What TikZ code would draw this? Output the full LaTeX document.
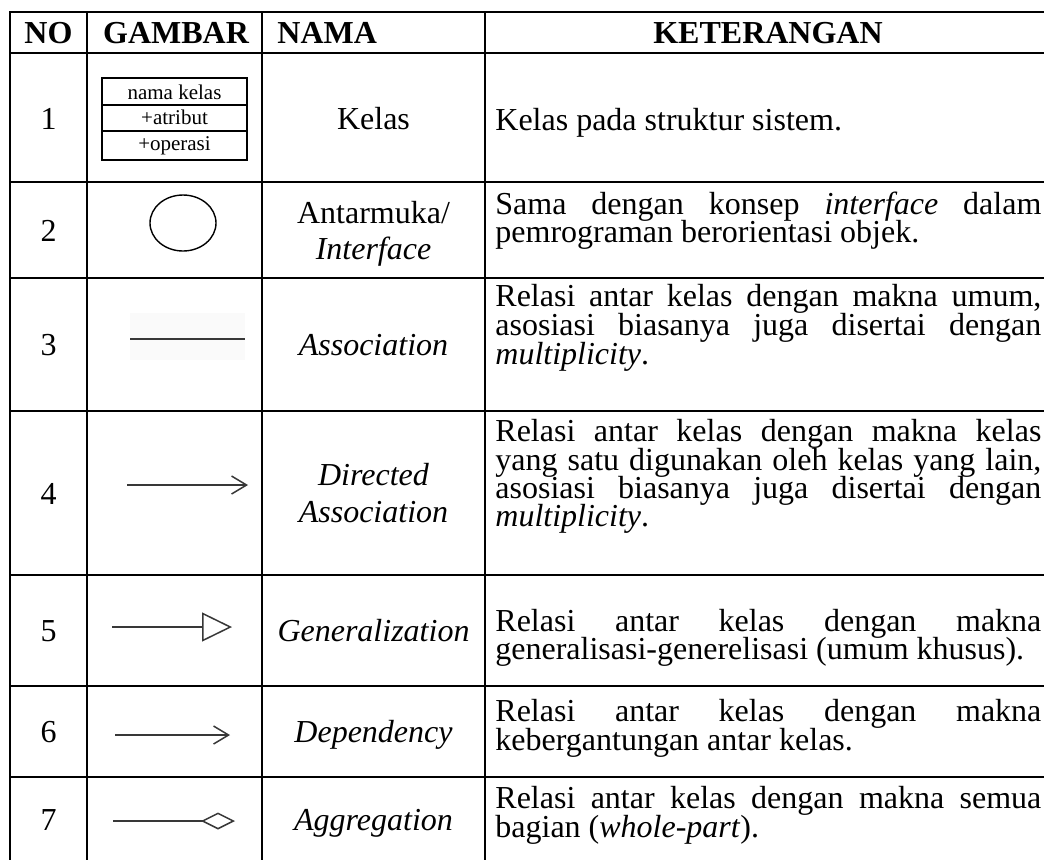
\documentclass[tikz,border=0pt]{standalone}
\usepackage{fontspec}
\setmainfont{Liberation Serif}
\usetikzlibrary{arrows.meta,shapes.geometric}
\newcommand\jline[1]{\makebox[273pt][s]{#1}}
\begin{document}
\begin{tikzpicture}[x=0.5pt,y=-0.5pt,
  grid/.style={line width=1.1pt, draw=black, line cap=rect},
  txt/.style={inner sep=0pt, anchor=base, font=\fontsize{16pt}{18pt}\selectfont},
  hdr/.style={inner sep=0pt, anchor=base, font=\fontsize{16pt}{18pt}\selectfont\bfseries},
  ket/.style={inner sep=0pt, anchor=base west, font=\fontsize{16pt}{18pt}\selectfont},
  small/.style={inner sep=0pt, anchor=base, font=\fontsize{10.5pt}{12pt}\selectfont},
  boxline/.style={line width=0.7pt, draw=black},
  sym/.style={line width=0.75pt, draw=black!78},
]
\useasboundingbox[fill=white] (0,0) rectangle (1044,859);

% table grid
\foreach \y in {12,53,182,278,411,575,686,777}
  \draw[grid] (10,\y) -- (1044,\y);
\foreach \x in {10,87,262,485}
  \draw[grid] (\x,12) -- (\x,866);

% header
\node[hdr] (hno) at (48.5,43) {NO};
\node[hdr] (hgb) at (176,43) {GAMBAR};
\node[hdr, anchor=base west] (hnm) at (277,43) {NAMA};
\node[hdr] (hket) at (768,43) {KETERANGAN};

% numbers
\node[txt] (n1) at (48.5,129) {1};
\node[txt] (n2) at (48.5,241) {2};
\node[txt] (n3) at (48.5,355) {3};
\node[txt] (n4) at (48.5,504) {4};
\node[txt] (n5) at (48.5,641) {5};
\node[txt] (n6) at (48.5,742) {6};
\node[txt] (n7) at (48.5,830) {7};

% names
\node[txt] (nm1) at (373.5,129) {Kelas};
\node[txt] (nm2a) at (373.5,223) {Antarmuka/};
\node[txt] (nm2b) at (373.5,259) {\itshape Interface};
\node[txt] (nm3) at (373.5,355) {\itshape Association};
\node[txt] (nm4a) at (373.5,485) {\itshape Directed};
\node[txt] (nm4b) at (373.5,522) {\itshape Association};
\node[txt] (nm5) at (373.5,641) {\itshape Generalization};
\node[txt] (nm6) at (373.5,742) {\itshape Dependency};
\node[txt] (nm7) at (373.5,830) {\itshape Aggregation};

% keterangan
\node[ket] (k1) at (495,130) {Kelas pada struktur sistem.};
\node[ket] (k2a) at (495,214) {\jline{Sama dengan konsep \textit{interface} dalam}};
\node[ket] (k2b) at (495,242.5) {pemrograman berorientasi objek.};
\node[ket] (k3a) at (495,306) {\jline{Relasi antar kelas dengan makna umum,}};
\node[ket] (k3b) at (495,335) {\jline{asosiasi biasanya juga disertai dengan}};
\node[ket] (k3c) at (495,364) {\textit{multiplicity}.};
\node[ket] (k4a) at (495,441) {\jline{Relasi antar kelas dengan makna kelas}};
\node[ket] (k4b) at (495,470) {\jline{yang satu digunakan oleh kelas yang lain,}};
\node[ket] (k4c) at (495,498) {\jline{asosiasi biasanya juga disertai dengan}};
\node[ket] (k4d) at (495,526) {\textit{multiplicity}.};
\node[ket] (k5a) at (495,631) {\jline{Relasi antar kelas dengan makna}};
\node[ket] (k5b) at (495,659) {generalisasi-generelisasi (umum khusus).};
\node[ket] (k6a) at (495,721) {\jline{Relasi antar kelas dengan makna}};
\node[ket] (k6b) at (495,750) {kebergantungan antar kelas.};
\node[ket] (k7a) at (495,808) {\jline{Relasi antar kelas dengan makna semua}};
\node[ket] (k7b) at (495,837) {bagian (\textit{whole-part}).};

% 1: class box
\draw[boxline] (102,78) rectangle (247,160);
\draw[boxline] (102,105) -- (247,105);
\draw[boxline] (102,131) -- (247,131);
\node[small] (cname) at (174.5,99) {nama kelas};
\node[small] (cattr) at (174.5,124.5) {+atribut};
\node[small] (cop) at (174.5,150) {+operasi};

% 2: interface
\node[draw, line width=0.7pt, ellipse, minimum width=33pt, minimum height=28pt, inner sep=0pt] (iface) at (183,223) {};

% 3: association
\fill[black!2] (130,313) rectangle (245,360);
\coordinate (a3s) at (130,339);
\coordinate (a3e) at (245,339);
\draw[sym] (a3s) -- (a3e);

% 4: directed association
\coordinate (a4s) at (127,485);
\coordinate (a4e) at (248,485);
\draw[sym, -{Straight Barb[length=7.5pt, width=9pt]}] (a4s) -- (a4e);

% 5: generalization
\coordinate (a5s) at (112,627);
\coordinate (a5e) at (232,627);
\draw[sym, -{Triangle[open, length=15pt, width=14.5pt]}] (a5s) -- (a5e);

% 6: dependency
\coordinate (a6s) at (115,735);
\coordinate (a6e) at (230,735);
\draw[sym, -{Straight Barb[length=7.5pt, width=9pt]}] (a6s) -- (a6e);

% 7: aggregation
\coordinate (a7s) at (113,821);
\coordinate (a7e) at (235,821);
\draw[sym, -{Diamond[open, length=17pt, width=8.5pt]}] (a7s) -- (a7e);
\end{tikzpicture}
\end{document}
